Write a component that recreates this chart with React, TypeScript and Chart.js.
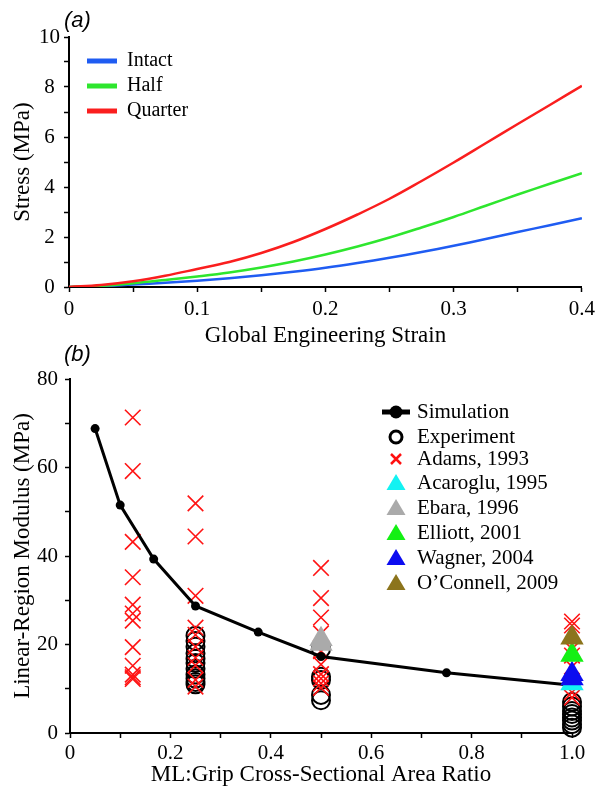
import React, { useEffect, useRef } from 'react';
import { Chart, registerables } from 'chart.js';
Chart.register(...registerables);

const SERIF = '"Liberation Serif", "Times New Roman", serif';
const SANS = '"Liberation Sans", Arial, sans-serif';

// ---------- Panel (a) ----------
const strain = [0, 0.025, 0.05, 0.075, 0.1, 0.125, 0.15, 0.175, 0.2, 0.225, 0.25, 0.275, 0.3, 0.325, 0.35, 0.375, 0.4];
const intact = [0, 0.03, 0.1, 0.17, 0.25, 0.35, 0.47, 0.61, 0.77, 0.96, 1.17, 1.4, 1.65, 1.92, 2.2, 2.47, 2.75];
const half = [0, 0.05, 0.15, 0.28, 0.42, 0.58, 0.78, 1.02, 1.3, 1.62, 1.98, 2.38, 2.8, 3.25, 3.7, 4.13, 4.55];
const quarter = [0, 0.08, 0.23, 0.45, 0.72, 1.0, 1.36, 1.8, 2.32, 2.9, 3.53, 4.24, 4.98, 5.75, 6.52, 7.28, 8.05];
const topSeriesNames = ['Intact', 'Half', 'Quarter'];
const topColors = ['#1f5cf2', '#2ee62e', '#fa1e1e'];
const topXTickLabels = ['0', '0.1', '0.2', '0.3', '0.4'];
const topYTickLabels = ['0', '2', '4', '6', '8', '10'];

// ---------- Panel (b) ----------
const simX = [0.05, 0.1, 0.1667, 0.25, 0.375, 0.5, 0.75, 1.0];
const simY = [68.8, 51.5, 39.3, 28.7, 22.8, 17.3, 13.6, 10.8];

const expX = [
  0.25, 0.25, 0.25, 0.25, 0.25, 0.25, 0.25, 0.25, 0.25, 0.25, 0.25,
  0.5, 0.5, 0.5, 0.5, 0.5,
  1.0, 1.0, 1.0, 1.0, 1.0, 1.0, 1.0, 1.0,
];
const expY = [
  22.0, 20.8, 19.5, 18.0, 16.8, 15.8, 14.5, 13.2, 12.3, 11.5, 11.0,
  19.0, 12.7, 12.0, 8.6, 7.4,
  7.0, 6.0, 5.0, 4.3, 3.5, 2.8, 2.0, 1.2,
];

const adamsX = [
  0.125, 0.125, 0.125, 0.125, 0.125, 0.125, 0.125, 0.125, 0.125, 0.125, 0.125, 0.125,
  0.25, 0.25, 0.25, 0.25, 0.25, 0.25, 0.25, 0.25, 0.25, 0.25,
  0.5, 0.5, 0.5, 0.5, 0.5, 0.5, 0.5, 0.5, 0.5, 0.5,
  1.0, 1.0, 1.0, 1.0, 1.0, 1.0, 1.0,
];
const adamsY = [
  71.3, 59.2, 43.2, 35.2, 29.0, 27.0, 25.4, 19.4, 15.2, 13.2, 12.6, 12.2,
  51.9, 44.4, 31.0, 23.8, 22.2, 19.5, 17.0, 15.3, 12.0, 10.5,
  37.3, 30.5, 26.1, 22.5, 18.5, 15.5, 13.3, 12.3, 11.2, 10.2,
  25.2, 24.3, 19.0, 17.5, 15.0, 9.2, 8.0,
];

const acarogluX = [1.0];
const acarogluY = [11.2];
const ebaraX = [0.5, 0.5];
const ebaraY = [21.2, 20.1];
const elliottX = [1.0];
const elliottY = [17.6];
const wagnerX = [1.0, 1.0];
const wagnerY = [13.3, 12.3];
const oconnellX = [1.0];
const oconnellY = [21.5];

const botXTickLabels = ['0', '0.2', '0.4', '0.6', '0.8', '1.0'];
const botYTickLabels = ['0', '20', '40', '60', '80'];

const legendNames = ['Simulation', 'Experiment', 'Adams, 1993', 'Acaroglu, 1995', 'Ebara, 1996', 'Elliott, 2001', 'Wagner, 2004', 'O\u2019Connell, 2009'];
const triColors = { acaroglu: '#13f2f2', ebara: '#aaaaaa', elliott: '#14f014', wagner: '#0c0cf0', oconnell: '#8c741c' };

const zip = (xs: number[], ys: number[]) => xs.map((x, i) => ({ x, y: ys[i] }));

const topLegendPlugin = {
  id: 'topLegend',
  afterDraw(chart: any) {
    const ctx = chart.ctx as CanvasRenderingContext2D;
    ctx.save();
    ctx.fillStyle = '#000';
    ctx.textAlign = 'left';
    ctx.textBaseline = 'middle';
    ctx.font = `italic 22px ${SANS}`;
    ctx.fillText('(a)', 64, 21);
    topSeriesNames.forEach((name, i) => {
      const y = 61 + 25 * i;
      ctx.strokeStyle = topColors[i];
      ctx.lineWidth = 5;
      ctx.beginPath();
      ctx.moveTo(87, y);
      ctx.lineTo(117, y);
      ctx.stroke();
      ctx.fillStyle = '#000';
      ctx.font = `20px ${SERIF}`;
      ctx.fillText(name, 127, y);
    });
    ctx.restore();
  },
};

const botLegendPlugin = {
  id: 'botLegend',
  afterDraw(chart: any) {
    const ctx = chart.ctx as CanvasRenderingContext2D;
    ctx.save();
    ctx.fillStyle = '#000';
    ctx.textAlign = 'left';
    ctx.textBaseline = 'middle';
    ctx.font = `italic 22px ${SANS}`;
    ctx.fillText('(b)', 64, 15);
    const rows = [72, 97, 119, 143, 168, 193, 218, 243];
    const mx = 396;
    const tx = 417;
    // Simulation
    ctx.strokeStyle = '#000';
    ctx.lineWidth = 5;
    ctx.beginPath();
    ctx.moveTo(382, rows[0]);
    ctx.lineTo(410, rows[0]);
    ctx.stroke();
    ctx.beginPath();
    ctx.arc(mx, rows[0], 6.5, 0, Math.PI * 2);
    ctx.fillStyle = '#000';
    ctx.fill();
    // Experiment
    ctx.lineWidth = 3;
    ctx.beginPath();
    ctx.arc(mx, rows[1], 6, 0, Math.PI * 2);
    ctx.stroke();
    // Adams
    ctx.strokeStyle = '#ff1010';
    ctx.lineWidth = 2.5;
    ctx.beginPath();
    ctx.moveTo(mx - 5, rows[2] - 5);
    ctx.lineTo(mx + 5, rows[2] + 5);
    ctx.moveTo(mx + 5, rows[2] - 5);
    ctx.lineTo(mx - 5, rows[2] + 5);
    ctx.stroke();
    const tris = [triColors.acaroglu, triColors.ebara, triColors.elliott, triColors.wagner, triColors.oconnell];
    tris.forEach((c, i) => {
      const y = rows[3 + i];
      ctx.fillStyle = c;
      ctx.beginPath();
      ctx.moveTo(mx, y - 9);
      ctx.lineTo(mx + 9.5, y + 7);
      ctx.lineTo(mx - 9.5, y + 7);
      ctx.closePath();
      ctx.fill();
    });
    ctx.fillStyle = '#000';
    ctx.font = `21px ${SERIF}`;
    legendNames.forEach((n, i) => ctx.fillText(n, tx, rows[i]));
    ctx.restore();
  },
};

const axisCommon = {
  grid: { display: true, drawOnChartArea: false, drawTicks: true, tickLength: 5, tickColor: '#000', tickWidth: 1.5, color: '#000' },
  border: { display: true, color: '#000', width: 2 },
};

const TRI_R = 13.5;

export default function App() {
  const topRef = useRef<HTMLCanvasElement>(null);
  const botRef = useRef<HTMLCanvasElement>(null);

  useEffect(() => {
    const top = new Chart(topRef.current!, {
      type: 'scatter',
      data: {
        datasets: [
          { label: topSeriesNames[2], data: zip(strain, quarter), borderColor: topColors[2], showLine: true, borderWidth: 2.5, pointRadius: 0, tension: 0.4 },
          { label: topSeriesNames[1], data: zip(strain, half), borderColor: topColors[1], showLine: true, borderWidth: 2.5, pointRadius: 0, tension: 0.4 },
          { label: topSeriesNames[0], data: zip(strain, intact), borderColor: topColors[0], showLine: true, borderWidth: 2.5, pointRadius: 0, tension: 0.4 },
        ],
      },
      options: {
        responsive: false,
        animation: false,
        events: [],
        layout: { padding: { left: 0, top: 37, right: 18, bottom: 0 } },
        plugins: { legend: { display: false }, tooltip: { enabled: false } },
        scales: {
          x: {
            type: 'linear', min: 0, max: 0.4,
            ...axisCommon,
            ticks: {
              stepSize: 0.05, autoSkip: false, maxRotation: 0, color: '#000', padding: 5,
              font: { family: SERIF, size: 21 },
              callback: (_v: any, i: number) => (i % 2 === 0 ? topXTickLabels[i / 2] : ''),
            },
            title: { display: true, text: 'Global Engineering Strain', color: '#000', font: { family: SERIF, size: 23 }, padding: { top: 0, bottom: 0 } },
            afterFit: (s: any) => { s.height = 63; },
          },
          y: {
            type: 'linear', min: 0, max: 10,
            ...axisCommon,
            ticks: {
              stepSize: 1, autoSkip: false, color: '#000', padding: 4, crossAlign: 'center',
              font: { family: SERIF, size: 21 },
              callback: (_v: any, i: number) => (i % 2 === 0 ? topYTickLabels[i / 2] : ''),
            },
            title: { display: true, text: 'Stress (MPa)', color: '#000', font: { family: SERIF, size: 23 }, padding: { top: 9, bottom: 0 } },
            afterFit: (s: any) => { s.width = 69; },
          },
        },
      } as any,
      plugins: [topLegendPlugin],
    });

    const bot = new Chart(botRef.current!, {
      type: 'scatter',
      data: {
        datasets: [
          { label: legendNames[7], data: zip(oconnellX, oconnellY), pointStyle: 'triangle', pointRadius: TRI_R, backgroundColor: triColors.oconnell, borderWidth: 0, clip: false as any },
          { label: legendNames[5], data: zip(elliottX, elliottY), pointStyle: 'triangle', pointRadius: TRI_R, backgroundColor: triColors.elliott, borderWidth: 0, clip: false as any },
          { label: legendNames[6], data: zip(wagnerX, wagnerY), pointStyle: 'triangle', pointRadius: TRI_R, backgroundColor: triColors.wagner, borderWidth: 0, clip: false as any },
          { label: legendNames[3], data: zip(acarogluX, acarogluY), pointStyle: 'triangle', pointRadius: TRI_R, backgroundColor: triColors.acaroglu, borderWidth: 0, clip: false as any },
          { label: legendNames[4], data: zip(ebaraX, ebaraY), pointStyle: 'triangle', pointRadius: TRI_R, backgroundColor: triColors.ebara, borderWidth: 0, clip: false as any },
          { label: legendNames[0], data: zip(simX, simY), showLine: true, borderColor: '#000', borderWidth: 3, pointRadius: 4.5, pointBackgroundColor: '#000', pointBorderColor: '#000', pointBorderWidth: 0, clip: false as any },
          { label: legendNames[2], data: zip(adamsX, adamsY), pointStyle: 'crossRot', pointRadius: 11, borderColor: '#ff1414', pointBorderWidth: 1.6, borderWidth: 1.6, backgroundColor: 'transparent', clip: false as any },
          { label: legendNames[1], data: zip(expX, expY), pointStyle: 'circle', pointRadius: 9, borderColor: '#000', pointBorderWidth: 2, borderWidth: 2, backgroundColor: 'rgba(0,0,0,0)', clip: false as any },
        ],
      },
      options: {
        responsive: false,
        animation: false,
        events: [],
        layout: { padding: { left: 0, top: 39, right: 28, bottom: 0 } },
        plugins: { legend: { display: false }, tooltip: { enabled: false } },
        scales: {
          x: {
            type: 'linear', min: 0, max: 1,
            ...axisCommon,
            ticks: {
              stepSize: 0.1, autoSkip: false, maxRotation: 0, color: '#000', padding: 3,
              font: { family: SERIF, size: 21 },
              callback: (_v: any, i: number) => (i % 2 === 0 ? botXTickLabels[i / 2] : ''),
            },
            title: { display: true, text: 'ML:Grip Cross-Sectional Area Ratio', color: '#000', font: { family: SERIF, size: 23 }, padding: { top: 0, bottom: 0 } },
            afterFit: (s: any) => { s.height = 56; },
          },
          y: {
            type: 'linear', min: 0, max: 80,
            ...axisCommon,
            ticks: {
              stepSize: 10, autoSkip: false, color: '#000', padding: 7,
              font: { family: SERIF, size: 21 },
              callback: (_v: any, i: number) => (i % 2 === 0 ? botYTickLabels[i / 2] : ''),
            },
            title: { display: true, text: 'Linear-Region Modulus (MPa)', color: '#000', font: { family: SERIF, size: 23 }, padding: { top: 9, bottom: 0 } },
            afterFit: (s: any) => { s.width = 70; },
          },
        },
      } as any,
      plugins: [botLegendPlugin],
    });

    return () => {
      top.destroy();
      bot.destroy();
    };
  }, []);

  return (
    <div style={{ position: 'absolute', left: 0, top: 0, width: 600, height: 789, background: '#fff' }}>
      <canvas ref={botRef} width={600} height={449} style={{ position: 'absolute', left: 0, top: 340 }} />
      <canvas ref={topRef} width={600} height={350} style={{ position: 'absolute', left: 0, top: 0 }} />
    </div>
  );
}
